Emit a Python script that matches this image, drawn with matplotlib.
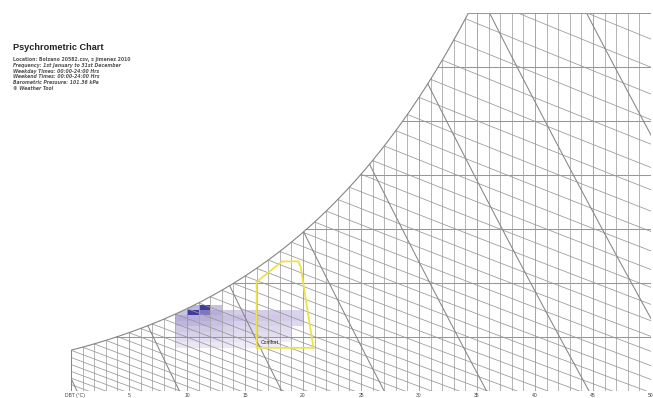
import numpy as np
import matplotlib
matplotlib.use("Agg")
import matplotlib.pyplot as plt
from matplotlib.patches import Polygon
from matplotlib.colors import LinearSegmentedColormap

# chart range and air pressure
P = 101.36            # kPa
T_MIN, T_MAX = 0, 50  # dry bulb, degC
W_MAX = 35            # g/kg

dbt_ticks = [5, 10, 15, 20, 25, 30, 35, 40, 45, 50]

header = [
    "Location: Bolzano 20582.csv, s jimenez 2010",
    "Frequency: 1st January to 31st December",
    "Weekday Times: 00:00-24:00 Hrs",
    "Weekend Times: 00:00-24:00 Hrs",
    "Barometric Pressure: 101.36 kPa",
    "\u00a9 Weather Tool",
]

# comfort zone outline (DBT degC, moisture g/kg)
comfort_t = [16.0, 16.0, 18.2, 19.6, 19.8, 20.9]
comfort_w = [4.0, 10.1, 12.0, 12.0, 11.5, 4.0]

# hourly frequency cells: 1 degC x 0.5 g/kg
cell_t = np.arange(9, 22)
cell_w = [4.0, 4.5, 5.0, 5.5, 6.0, 6.5, 7.0, 7.5, 8.0]
hours = [
    [8, 8, 8, 8, 8, 6, 6, 6, 6, 0, 0, 0],
    [12, 12, 12, 12, 10, 8, 8, 8, 8, 6, 0, 0],
    [20, 20, 20, 20, 15, 12, 12, 12, 12, 10, 0, 0],
    [25, 25, 25, 25, 20, 15, 15, 15, 15, 12, 0, 0],
    [35, 35, 35, 30, 25, 20, 20, 20, 20, 18, 15, 0],
    [40, 40, 40, 35, 30, 30, 25, 25, 25, 22, 20, 0],
    [30, 92, 65, 40, 25, 22, 22, 22, 22, 20, 18, 0],
    [0, 35, 92, 30, 0, 0, 0, 0, 0, 0, 0, 0],
]


def psat(t):
    return 0.61121 * np.exp((18.678 - t / 234.5) * (t / (257.14 + t)))


def wsat(t):
    ps = psat(t)
    return 622.0 * ps / (P - ps)


def w_wetbulb(t, twb):
    ws = wsat(twb) / 1000.0
    w = ((2501 - 2.326 * twb) * ws - 1.006 * (t - twb)) / (2501 + 1.86 * t - 4.186 * twb)
    return w * 1000.0


fig = plt.figure(figsize=(6.53, 3.98), dpi=100)
ax = fig.add_axes([71 / 653, 7 / 398, 580 / 653, 378 / 398])
ax.set_xlim(T_MIN, T_MAX)
ax.set_ylim(0, W_MAX)
ax.axis("off")

# chart outline: left edge, saturation curve, top, right edge, bottom
ts = np.linspace(T_MIN, T_MAX, 600)
sat = wsat(ts)
keep = sat <= W_MAX
t_top = ts[keep][-1]
outline = [(T_MIN, 0)] + list(zip(ts[keep], sat[keep])) + [(T_MAX, W_MAX), (T_MAX, 0)]
clip = Polygon(outline, closed=True, transform=ax.transData, facecolor="none", edgecolor="none")
ax.add_patch(clip)

light = "#a9a9a9"
mid = "#979797"
dark = "#858585"

# frequency cells
cmap = LinearSegmentedColormap.from_list(
    "freq", [(0, "#ffffff"), (0.1, "#e6e1f2"), (0.35, "#c4bbe0"), (0.6, "#9387c6"), (1, "#39369a")])
grid = np.ma.masked_equal(np.array(hours, dtype=float), 0)
mesh = ax.pcolormesh(cell_t, cell_w, grid, cmap=cmap, vmin=0, vmax=95, zorder=1)
mesh.set_clip_path(clip)

lines = []
# dry bulb lines every degree
for t in range(T_MIN, T_MAX + 1):
    l, = ax.plot([t, t], [0, W_MAX], color=mid if t % 5 == 0 else light, lw=0.6, zorder=2)
    lines.append(l)
# moisture content every 5 g/kg
for w in range(0, W_MAX + 1, 5):
    l, = ax.plot([T_MIN, T_MAX], [w, w], color=mid, lw=0.75, zorder=2)
    lines.append(l)
# wet bulb lines every degree
for twb in range(-15, 41):
    tt = np.linspace(twb, 70, 200)
    l, = ax.plot(tt, w_wetbulb(tt, twb), color=mid, lw=0.55, zorder=3)
    lines.append(l)
# specific volume lines every 0.025 m3/kg
ww = np.linspace(0, W_MAX, 100)
for v in np.arange(0.775, 0.951, 0.025):
    tv = v * P / (0.287042 * (1 + 1.607858 * ww / 1000)) - 273.15
    l, = ax.plot(tv, ww, color=dark, lw=0.75, zorder=3)
    lines.append(l)
for l in lines:
    l.set_clip_path(clip)

# outline itself
ax.plot(ts[keep], sat[keep], color=dark, lw=0.8, zorder=4)
ax.plot([T_MIN, T_MIN], [0, wsat(T_MIN)], color=dark, lw=0.7, zorder=4)
ax.plot([t_top, T_MAX], [W_MAX, W_MAX], color=mid, lw=0.7, zorder=4)

# comfort zone
ax.fill(comfort_t, comfort_w, facecolor="none", edgecolor="#eee24a", lw=1.3, zorder=5)
ax.text(16.4, 4.3, "Comfort", fontsize=3.6, family="Liberation Sans", color="#222222",
        ha="left", va="bottom", zorder=6)

# axis labels under the chart
for t in dbt_ticks:
    ax.text(t, -0.38, str(t), fontsize=3.6, family="Liberation Sans", color="#444444",
            ha="center", va="center", clip_on=False)
ax.text(0.35, -0.38, "DBT (\u00b0C)", fontsize=3.6, family="Liberation Sans", color="#444444",
        ha="center", va="center", clip_on=False)

# title block
fig.text(13 / 653, 1 - 48 / 398, "Psychrometric Chart", fontsize=6.6, fontweight="bold",
         family="Liberation Sans", color="#222222", va="center")
for i, line in enumerate(header):
    fig.text(13 / 653, 1 - (59 + 6 * i) / 398, line, fontsize=3.35, fontweight="bold",
             fontstyle="normal" if i == 0 else "italic", family="DejaVu Sans",
             color="#555555", va="center")

fig.savefig("out.png", dpi=100, facecolor="white")
